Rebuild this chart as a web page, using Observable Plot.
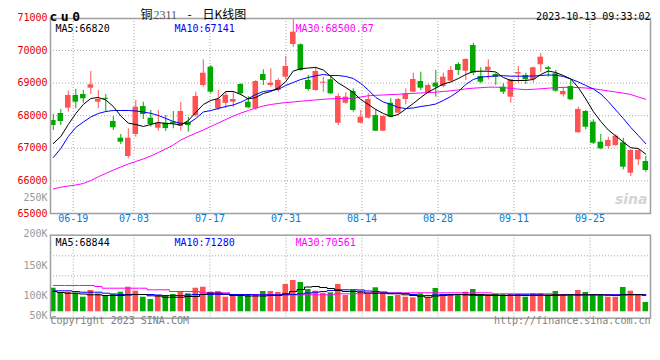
<!DOCTYPE html>
<html><head><meta charset="utf-8">
<script src="https://cdn.jsdelivr.net/npm/d3@7"></script>
<script src="https://cdn.jsdelivr.net/npm/@observablehq/plot@0.6"></script>
<style>
body{margin:0;background:#fff;}
#wrap{position:relative;width:660px;height:360px;overflow:hidden;background:#fff;}
#wrap svg{position:absolute;left:0;}
</style></head><body><div id="wrap"></div>
<script>
const dates = ["06-14","06-15","06-16","06-19","06-20","06-21","06-26","06-27","06-28","06-29","06-30",
"07-03","07-04","07-05","07-06","07-07","07-10","07-11","07-12","07-13","07-14",
"07-17","07-18","07-19","07-20","07-21","07-24","07-25","07-26","07-27","07-28","07-31",
"08-01","08-02","08-03","08-04","08-07","08-08","08-09","08-10","08-11",
"08-14","08-15","08-16","08-17","08-18","08-21","08-22","08-23","08-24","08-25",
"08-28","08-29","08-30","08-31","09-01",
"09-04","09-05","09-06","09-07","09-08","09-11","09-12","09-13","09-14","09-15",
"09-18","09-19","09-20","09-21","09-22","09-25","09-26","09-27","09-28",
"10-09","10-10","10-11","10-12","10-13"];
const open = [67852,68067,68230,68619,68650,68843,68414,68533,67822,67309,
66748,67423,68282,67923,67616,67769,67800,67668,67791,68006,
68926,69487,68211,68379,68414,68956,68414,68211,69263,68926,
68772,69180,70183,70174,69079,68772,68996,69101,67769,68383,
68742,67769,67923,68006,67524,68379,68076,68496,68720,69048,
68690,68996,68895,69058,69570,69364,70152,69202,69386,69263,
68874,68567,69278,69232,69101,69561,69469,69285,68640,68895,
67475,68128,67800,67187,67055,67086,67168,66236,66647,66595];
const high = [68036,68190,68751,68803,68772,69355,68772,68650,67975,67423,
67598,68466,68414,68159,68159,68006,68128,68410,67944,68720,
69714,69539,68772,68711,68742,68978,68588,69079,69407,69438,
69131,69815,71000,70204,69232,69487,69180,69202,68671,68702,
68824,68159,68671,68190,67990,68518,68527,68824,69303,69334,
68978,69386,69303,69508,69622,69745,70223,69469,69714,69303,
68978,69110,69508,69303,69487,69898,69508,69386,68874,69079,
68260,68159,67874,67423,67340,67414,67309,66954,66950,66748];
const low = [67546,67699,68107,68211,68379,68650,68211,68107,67546,67116,
66678,67340,67883,67647,67524,67515,67598,67524,67493,67954,
68874,68671,68159,68220,68251,68619,68211,68159,68926,68874,
68720,69101,70100,69364,68751,68751,68720,68650,67699,68348,
68107,67751,67904,67515,67515,67935,68058,68334,68702,68772,
68671,68567,68855,69027,69232,69079,69232,68978,69101,68926,
68650,68383,68996,68956,68996,69334,69180,68720,68567,68466,
67463,67567,67116,66954,66984,67055,66340,66135,66472,66267];
const close = [67699,67822,68619,68414,68518,68947,68496,68502,67628,67187,
67309,68260,68036,67730,67769,67604,67751,68128,67699,68588,
69303,68720,68496,68625,68496,68671,68242,69048,69079,68996,
69079,69508,70560,69386,68803,69355,69027,68671,68588,68567,
68159,67954,68496,67524,67975,67954,68496,68671,69110,68843,
68926,68874,69180,69386,69386,69723,69303,69027,69487,69180,
68720,69101,69324,69101,69469,69794,69416,68751,68742,68487,
68190,67647,67156,66984,67239,67371,66420,66932,66932,66319];
const ma5 = [67147,67362,67730,68067,68343,68527,68558,68481,68282,67990,
67770,67730,67668,67730,67791,67760,67751,67714,67852,68098,
68343,68466,68527,68742,68742,68650,68512,68558,68680,68742,
68849,69048,69370,69438,69462,69478,69401,69202,69002,68864,
68711,68496,68343,68190,68067,67975,68036,68205,68374,68558,
68726,68849,68972,69033,69140,69263,69355,69364,69364,69340,
69171,69079,69079,69079,69110,69263,69370,69324,69232,69125,
68864,68512,68128,67822,67561,67377,67193,67015,66994,66820];
const ma10 = [66718,66994,67362,67638,67806,67960,68067,68128,68159,68159,
68159,68144,68113,68073,68006,67914,67822,67766,67760,67914,
68113,68159,68220,68282,68328,68414,68527,68650,68742,68772,
68809,68926,69018,69110,69171,69223,69263,69232,69232,69202,
69140,68987,68788,68558,68420,68343,68251,68220,68236,68282,
68312,68358,68466,68588,68742,68956,69110,69180,69202,69217,
69226,69211,69211,69211,69217,69232,69248,69242,69202,69125,
69033,68926,68818,68665,68435,68174,67914,67638,67392,67141];
const ma30 = [65751,65807,65843,65874,65920,66012,66126,66227,66334,66426,
66518,66595,66672,66764,66871,66978,67101,67254,67362,67463,
67561,67668,67776,67883,67990,68079,68159,68236,68297,68343,
68374,68404,68420,68444,68463,68484,68502,68518,68524,68530,
68536,68573,68610,68625,68634,68647,68656,68671,68683,68696,
68708,68720,68742,68763,68788,68821,68843,68858,68874,68874,
68864,68834,68815,68797,68809,68824,68843,68858,68867,68870,
68861,68849,68828,68794,68760,68726,68690,68650,68573,68501];
const volume = [98300,77500,81700,77500,60800,88800,75000,66700,72100,81700,
102500,85800,60800,51300,67900,65000,72100,84600,75000,98300,
102500,81700,84600,60800,70800,67900,67900,70800,84600,84600,
80400,113800,130400,122100,92900,85800,77500,79200,113800,67900,
88800,85800,72100,100000,77500,63800,67900,60800,58300,75000,
58300,97100,72100,72100,72100,81700,92900,63800,69200,72100,
72100,72100,72100,60800,76300,76300,67900,84600,67900,67900,
88800,80400,67900,67900,60800,60800,101300,85800,70800,38800];
const volMa5 = [84600,80400,77500,77500,74200,70800,70800,67900,67900,67900,
70000,72100,72100,66700,65800,60800,60800,60800,63800,63800,
72100,77500,77500,74200,67900,67900,65800,65800,65800,67900,
67900,75000,84600,92900,103300,105400,101300,97100,88800,84600,
84600,82500,77500,77500,77500,75000,75000,70800,67900,65000,
60800,65800,67900,70000,72100,72100,72100,72100,70800,70000,
67900,67900,67900,67900,67900,69200,70000,70800,70800,70800,
70000,70800,70800,70800,69200,67900,70800,72100,72100,68844];
const volMa10 = [87500,87500,87500,84600,81700,81700,81700,77500,74200,72100,
72100,72100,72100,72100,70000,67900,67900,67900,70000,72100,
72100,72100,72100,72100,72100,72100,72100,70800,70800,70800,
70800,70800,72100,75000,78300,81700,84600,88800,91700,91700,
91700,90800,86700,84600,82500,77500,77500,76300,72100,67900,
67900,70000,72100,72100,72100,70000,67900,67900,67900,67900,
67900,70000,70800,70800,70800,70000,67900,67900,69200,70800,
70800,70800,70800,70800,70800,70800,70800,70800,70800,71280];
const volMa30 = [109600,109600,109600,109600,109600,109600,105400,98300,98300,98300,
98300,98300,98300,91700,91700,91700,84600,84600,84600,84600,
79200,79200,79200,79200,72100,72100,72100,72100,72100,72100,
72100,72100,70800,70800,70800,70800,70800,70800,75000,75000,
75000,75000,79200,79200,79200,79200,79200,79200,79200,79200,
79200,79200,79200,79200,79200,79200,79200,79200,79200,75000,
75000,75000,75000,75000,75000,75000,75000,70800,70800,70800,
70800,70800,70800,70800,70800,70800,70800,70800,70800,70561];
const priceTicks = [71000,70000,69000,68000,67000,66000,65000];
const priceGrid = [70000,69000,68000,67000,66000];
const dateTicks = ["06-19","07-03","07-17","07-31","08-14","08-28","09-11","09-25"];
const volTickLabels = ["200K","150K","100K","50K"];
const volGrid = [150000,233300];
const priceMaLabels = ["MA5:66820","MA10:67141","MA30:68500.67"];
const volMaLabels = ["MA5:68844","MA10:71280","MA30:70561"];

const UP = "#ff5252", DOWN = "#00a800";
const MONO = "DejaVu Sans Mono, monospace";
const CJK = "Noto Sans CJK SC, sans-serif";
const rows = dates.map((d, i) => ({
  i, date: d, open: open[i], high: high[i], low: low[i], close: close[i],
  ma5: ma5[i], ma10: ma10[i], ma30: ma30[i],
  vol: volume[i], vma5: volMa5[i], vma10: volMa10[i], vma30: volMa30[i],
  col: close[i] >= open[i] ? UP : DOWN
}));
// date gridlines are spaced slightly wider than candles in the original
const ticks = dateTicks.map(t => ({label: t, pos: dates.indexOf(t) * 76 / 75 - 0.387}));
const xDomain = [-0.373, 79.627];
const dotted = {stroke: "#a8a8a8", strokeDasharray: "1,2"};
const maColors = ["#000000", "#0000ff", "#ff00ff"];
const labelDx = [5, 124, 245];
const volTickDy = [-4.9, 26.3, 56.3, 76.3]; // label offsets from the panel top (style)
const half = 0.37;
const baseStyle = {background: "transparent", fontFamily: MONO, fontSize: "10px", overflow: "visible"};

const price = Plot.plot({
  width: 660, height: 225, marginLeft: 50, marginRight: 10, marginTop: 18, marginBottom: 12,
  x: {domain: xDomain, axis: null},
  y: {domain: [65000, 70980], axis: null},
  color: {type: "identity"},
  style: baseStyle,
  marks: [
    Plot.ruleY(priceGrid, dotted),
    Plot.ruleX(ticks, {x: "pos", ...dotted}),
    Plot.ruleX(rows, {x: "i", y1: "low", y2: "high", stroke: "col", clip: true}),
    Plot.rect(rows, {x1: d => d.i - half, x2: d => d.i + half, y1: "open", y2: "close", fill: "col", clip: true}),
    Plot.line(rows, {x: "i", y: "ma30", stroke: maColors[2], strokeWidth: 1}),
    Plot.line(rows, {x: "i", y: "ma10", stroke: maColors[1], strokeWidth: 1}),
    Plot.line(rows, {x: "i", y: "ma5", stroke: maColors[0], strokeWidth: 1}),
    Plot.frame({stroke: "#a0a0a0", strokeWidth: 1.5}),
    Plot.text(priceTicks, {y: d => d, text: d => String(d), frameAnchor: "left", dx: -3, textAnchor: "end", fill: "#e60000", fontFamily: MONO, fontSize: 10}),
    Plot.text(["250K"], {frameAnchor: "bottom-left", dx: -3, dy: -13, textAnchor: "end", fill: "#999", fontFamily: MONO, fontSize: 10}),
    Plot.text(ticks, {x: "pos", text: "label", frameAnchor: "bottom", dy: 8, fill: "#0a78d0", fontFamily: MONO, fontSize: 10}),
    ...priceMaLabels.map((t, k) => Plot.text([t], {frameAnchor: "top-left", dx: labelDx[k], dy: 6, textAnchor: "start", fill: maColors[k], fontFamily: MONO, fontSize: 10})),
    Plot.text(["cu0"], {frameAnchor: "top-left", dx: -1, dy: -6.3, textAnchor: "start", fontWeight: "bold", fontSize: 13, fill: "#000", fontFamily: MONO}),
    Plot.text(["铜"], {frameAnchor: "top-left", dx: 90, dy: -8.5, textAnchor: "start", fontFamily: CJK, fontSize: 12, fill: "#000"}),
    Plot.text(["2311"], {frameAnchor: "top-left", dx: 103, dy: -8.5, textAnchor: "start", fontFamily: "Liberation Serif, serif", fontSize: 12, fill: "#555"}),
    Plot.text(["-"], {frameAnchor: "top-left", dx: 137, dy: -8.5, textAnchor: "start", fontFamily: CJK, fontSize: 12, fill: "#000"}),
    Plot.text(["日K线图"], {frameAnchor: "top-left", dx: 152, dy: -8.5, textAnchor: "start", fontFamily: CJK, fontSize: 12, fill: "#000"}),
    Plot.text(["2023-10-13 09:33:02"], {frameAnchor: "top-right", dy: -5.8, textAnchor: "end", fill: "#000", fontFamily: MONO, fontSize: 10}),
    Plot.text(["sina"], {frameAnchor: "bottom-right", dx: -3, dy: -10, textAnchor: "end", fill: "#d4d4d4", fontFamily: "DejaVu Sans, sans-serif", fontSize: 14, fontWeight: "bold", fontStyle: "italic"})
  ]
});
d3.select(price).selectAll("text").filter(function() { return this.textContent === "cu0"; }).attr("letter-spacing", 3.5);
price.style.top = "0px";

const volPlot = Plot.plot({
  width: 660, height: 135, marginLeft: 50, marginRight: 10, marginTop: 9.7, marginBottom: 42.3,
  x: {domain: xDomain, axis: null},
  y: {domain: [0, 319200], range: [86.3, 9.7], axis: null},
  color: {type: "identity"},
  style: baseStyle,
  marks: [
    Plot.ruleY(volGrid, dotted),
    Plot.ruleX(ticks, {x: "pos", ...dotted}),
    Plot.rect(rows, {x1: d => d.i - half, x2: d => d.i + half, y1: 0, y2: "vol", fill: "col"}),
    Plot.line(rows, {x: "i", y: "vma30", stroke: maColors[2], strokeWidth: 1, curve: "step"}),
    Plot.line(rows, {x: "i", y: "vma10", stroke: maColors[1], strokeWidth: 1, curve: "step"}),
    Plot.line(rows, {x: "i", y: "vma5", stroke: maColors[0], strokeWidth: 1, curve: "step"}),
    Plot.frame({stroke: "#a0a0a0", strokeWidth: 1.5}),
    ...volTickLabels.map((t, k) => Plot.text([t], {frameAnchor: "top-left", dx: -3, dy: volTickDy[k], textAnchor: "end", fill: "#999", fontFamily: MONO, fontSize: 10})),
    ...volMaLabels.map((t, k) => Plot.text([t], {frameAnchor: "top-left", dx: labelDx[k], dy: 4, textAnchor: "start", fill: maColors[k], fontFamily: MONO, fontSize: 10})),
    Plot.text(["Copyright 2023 SINA.COM"], {frameAnchor: "bottom-left", dy: 5.3, textAnchor: "start", fill: "#808080", fontFamily: MONO, fontSize: 10}),
    Plot.text(["http://finance.sina.com.cn"], {frameAnchor: "bottom-right", dy: 5.3, textAnchor: "end", fill: "#808080", fontFamily: MONO, fontSize: 10})
  ]
});
volPlot.style.top = "225px";

const wrap = document.getElementById("wrap");
wrap.appendChild(price);
wrap.appendChild(volPlot);
</script>
</body></html>
